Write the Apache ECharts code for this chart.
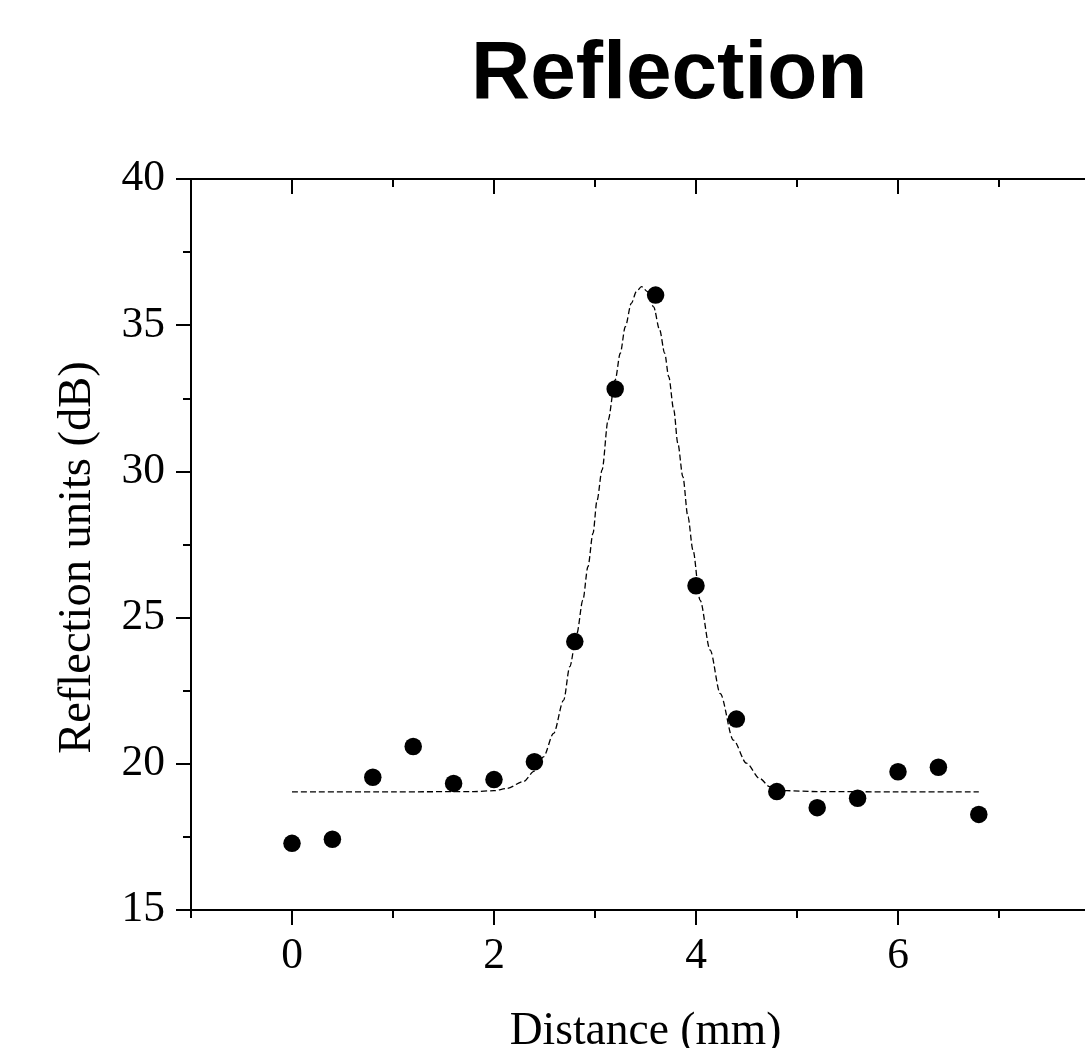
<!DOCTYPE html>
<html>
<head>
<meta charset="utf-8">
<script src="https://cdn.jsdelivr.net/npm/echarts@6/dist/echarts.min.js"></script>
<style>
html,body{margin:0;padding:0;background:#fff;}
#main{width:1085px;height:1048px;}
</style>
</head>
<body>
<div id="main"></div>
<script>
// Measured data (Distance in mm, Reflection in dB)
const distance = [0, 0.4, 0.8, 1.2, 1.6, 2.0, 2.4, 2.8, 3.2, 3.6, 4.0, 4.4, 4.8, 5.2, 5.6, 6.0, 6.4, 6.8];
const reflection = [17.28, 17.42, 19.54, 20.59, 19.33, 19.46, 20.07, 24.18, 32.82, 36.03, 26.09, 21.53, 19.05, 18.50, 18.82, 19.73, 19.88, 18.27];

// Fit curve points
const fitX = [0, 1.0, 1.8, 2.0, 2.13, 2.29, 2.4, 2.49, 2.59, 2.69, 2.75, 2.82, 2.88, 2.93, 2.98, 3.02, 3.07, 3.13, 3.20, 3.25, 3.30, 3.36, 3.41, 3.46, 3.52, 3.58, 3.64, 3.69, 3.73, 3.78, 3.82, 3.87, 3.92, 3.97, 4.04, 4.14, 4.24, 4.37, 4.50, 4.63, 4.73, 4.9, 5.2, 6.0, 6.8];
const fitY = [19.04, 19.04, 19.05, 19.08, 19.16, 19.39, 19.75, 20.24, 21.04, 22.18, 23.32, 24.46, 25.6, 26.74, 27.88, 29.0, 30.05, 31.76, 33.13, 34.04, 34.95, 35.75, 36.15, 36.32, 36.15, 35.63, 34.84, 34.04, 33.24, 32.1, 30.96, 29.82, 28.45, 27.31, 25.6, 23.89, 22.4, 20.81, 20.02, 19.5, 19.22, 19.08, 19.05, 19.04, 19.04];

const xMajor = [0, 2, 4, 6];
const xMinor = [-1, 1, 3, 5, 7];
const xLabels = ['0', '2', '4', '6'];

const chart = echarts.init(document.getElementById('main'), null, {renderer: 'canvas'});
const serif = 'Liberation Serif';
const axisLine = {show: true, onZero: false, lineStyle: {color: '#000', width: 2}};

function xAx(pos, ticks, len, inside, showLabel, extra) {
  return Object.assign({
    type: 'value', position: pos, min: -1, max: 8,
    axisLine: axisLine,
    axisTick: {show: true, inside: inside, length: len, lineStyle: {color: '#000', width: 2}, customValues: ticks},
    axisLabel: showLabel ? {show: true, customValues: xMajor, color: '#000', fontFamily: serif, fontSize: 43.5, margin: 25,
      formatter: v => xLabels[xMajor.indexOf(v)]} : {show: false},
    splitLine: {show: false}
  }, extra || {});
}

chart.setOption({
  backgroundColor: '#fff',
  animation: false,
  title: {
    text: 'Reflection', left: 466, top: 29,
    textStyle: {fontFamily: 'Liberation Sans', fontWeight: 'bold', fontSize: 82, color: '#000'}
  },
  grid: {left: 191, right: -15, top: 179, bottom: 138, containLabel: false, outerBoundsMode: 'none'},
  xAxis: [
    xAx('bottom', xMajor, 15, false, true, {
      name: 'Distance (mm)', nameLocation: 'middle', nameGap: 99,
      nameTextStyle: {fontFamily: serif, fontSize: 45.5, color: '#000'}
    }),
    xAx('bottom', xMinor, 8, false, false),
    xAx('top', xMajor, 15, true, false),
    xAx('top', xMinor, 8, true, false)
  ],
  yAxis: [
    {
      type: 'value', position: 'left', min: 15, max: 40, interval: 5,
      axisLine: axisLine,
      axisTick: {show: true, inside: false, length: 15, lineStyle: {color: '#000', width: 2}},
      minorTick: {show: true, splitNumber: 2, length: 8, lineStyle: {color: '#000', width: 2}},
      axisLabel: {color: '#000', fontFamily: serif, fontSize: 43.5, margin: 26},
      splitLine: {show: false},
      name: 'Reflection units (dB)', nameLocation: 'middle', nameGap: 90, nameRotate: 90,
      nameTextStyle: {fontFamily: serif, fontSize: 46.5, color: '#000', padding: [0, 26, 0, 0]}
    },
    {
      type: 'value', position: 'right', min: 15, max: 40, interval: 5,
      axisLine: axisLine,
      axisTick: {show: true, inside: true, length: 15, lineStyle: {color: '#000', width: 2}},
      minorTick: {show: true, splitNumber: 2, length: 8, lineStyle: {color: '#000', width: 2}},
      axisLabel: {show: false},
      splitLine: {show: false}
    }
  ],
  series: [
    {
      type: 'line', name: 'Fit',
      data: fitX.map((x, i) => [x, fitY[i]]),
      showSymbol: false, symbol: 'none', smooth: 0.3, smoothMonotone: 'x',
      lineStyle: {color: '#000', width: 1.3, type: [6, 3]},
      z: 2
    },
    {
      type: 'scatter', name: 'Reflection',
      data: distance.map((x, i) => [x, reflection[i]]),
      symbol: 'circle', symbolSize: 17.5,
      itemStyle: {color: '#000', opacity: 1},
      z: 3
    }
  ]
});
</script>
</body>
</html>
